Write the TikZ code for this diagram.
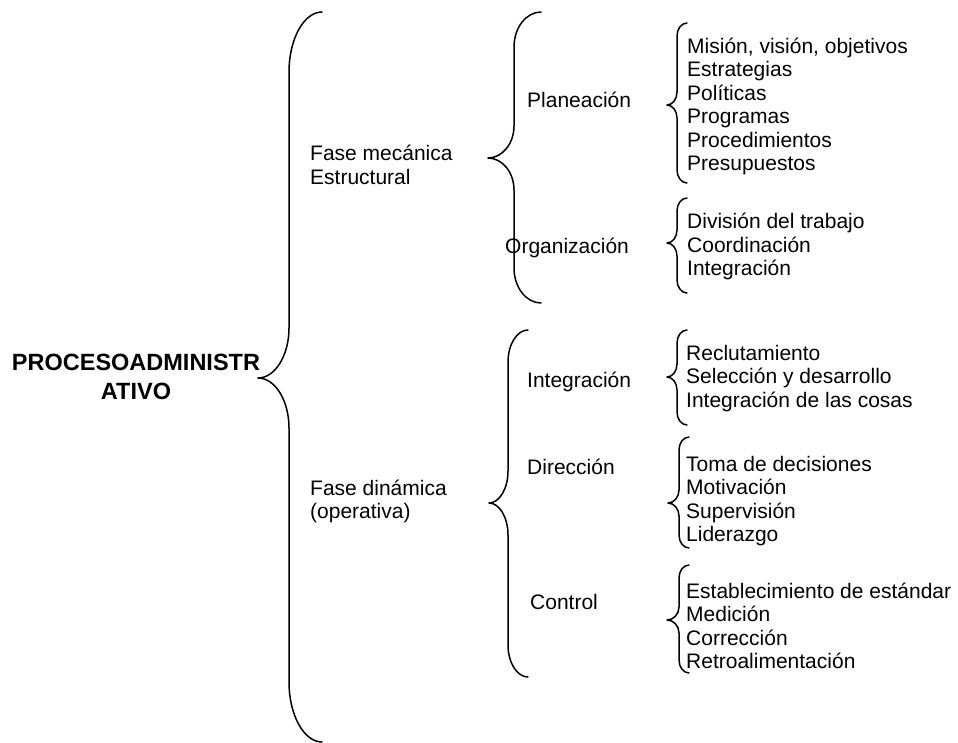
\documentclass[tikz,border=0pt]{standalone}
\usepackage{fontspec}
\setmainfont{Liberation Sans}
\usetikzlibrary{calc}
\newcommand\curlybr[8]{% xend, xvert, xtip, ytop, ytip, ybot, r1, r2
  \draw[bracestyle] (#1,#4) .. controls ($(#1,#4)!0.55!(#2,#4)$) and (#2,#4+0.45*#7) .. (#2,#4+#7) -- (#2,#5-#8)
    .. controls (#2,#5-0.45*#8) and ($(#3,#5)!0.55!(#2,#5)$) .. (#3,#5)
    .. controls ($(#3,#5)!0.55!(#2,#5)$) and (#2,#5+0.45*#8) .. (#2,#5+#8)
    -- (#2,#6-#7) .. controls (#2,#6-0.45*#7) and ($(#1,#6)!0.55!(#2,#6)$) .. (#1,#6);}
\tikzset{
  bracestyle/.style={line width=1.5pt, line cap=round, line join=round},
  lbl/.style={anchor=west, inner sep=0pt, align=left, font=\fontsize{21}{23.5}\selectfont},
  ttl/.style={inner sep=0pt, align=center, font=\fontsize{23.5}{29}\selectfont\bfseries}
}
\begin{document}
\begin{tikzpicture}[x=1pt,y=-1pt]
\useasboundingbox (0,0) rectangle (958,743);
% braces
\curlybr{322}{289}{258}{12}{378}{742}{60}{50}
\curlybr{541}{514}{488}{12}{158}{303}{35}{32}
\curlybr{528}{508}{489}{330}{503}{677}{32}{32}
\curlybr{687}{677}{667}{23}{105}{183}{13}{13}
\curlybr{687}{677}{667}{198}{243}{293}{13}{13}
\curlybr{687}{677}{667}{330}{377}{425}{13}{13}
\curlybr{689}{679}{668}{437}{503}{548}{13}{13}
\curlybr{689}{679}{667}{565}{620}{673}{13}{13}
% texts
\node[ttl] (proc) at (136,377) {PROCESOADMINISTR\\ATIVO};
\node[lbl] (mec) at (310,165) {Fase mecánica\\Estructural};
\node[lbl] (din) at (310,501.5) {Fase dinámica\\(operativa)};
\node[lbl] (plan) at (527,100) {Planeación};
\node[lbl] (org) at (505,248) {Organización};
\node[lbl] (integ) at (527,382) {Integración};
\node[lbl] (dir) at (527,467) {Dirección};
\node[lbl] (ctrl) at (530,602) {Control};
\node[lbl] (planit) at (687,106.5) {Misión, visión, objetivos\\Estrategias\\Políticas\\Programas\\Procedimientos\\Presupuestos};
\node[lbl] (orgit) at (687,246.5) {División del trabajo\\Coordinación\\Integración};
\node[lbl] (integit) at (686,378.5) {Reclutamiento\\Selección y desarrollo\\Integración de las cosas};
\begin{scope}
\clip (680,440) rectangle (958,545);
\node[lbl] (dirit) at (686,501) {Toma de decisiones\\Motivación\\Supervisión\\Liderazgo};
\end{scope}
\begin{scope}
\clip (680,565) rectangle (958,668);
\node[lbl] (ctrlit) at (686,626) {Establecimiento de estándar\\Medición\\Corrección\\Retroalimentación};
\end{scope}
\end{tikzpicture}
\end{document}
